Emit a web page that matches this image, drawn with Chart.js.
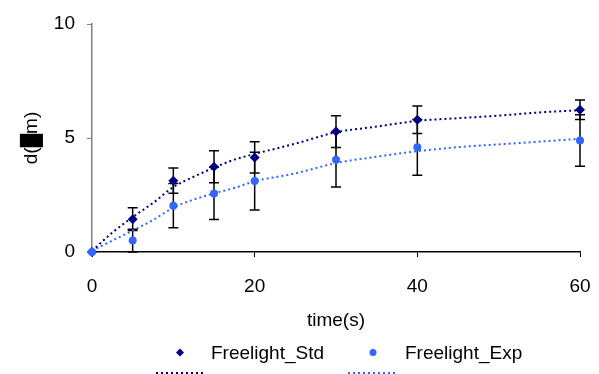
<!DOCTYPE html>
<html>
<head>
<meta charset="utf-8">
<script src="https://cdn.jsdelivr.net/npm/chart.js@4/dist/chart.umd.min.js"></script>
<style>
  html, body { margin: 0; padding: 0; background: #fff; }
  #wrap { width: 599px; height: 374px; }
</style>
</head>
<body>
<div id="wrap"><canvas id="chart" width="599" height="374"></canvas></div>
<script>
// ---------- data ----------
const TIMES      = [0, 5, 10, 15, 20, 30, 40, 60];
const STD_VALUES = [0, 1.44, 3.13, 3.74, 4.15, 5.28, 5.80, 6.24];
const STD_ERRORS = [0, 0.50, 0.55, 0.70, 0.69, 0.70, 0.60, 0.43];
const EXP_VALUES = [0, 0.50, 2.03, 2.57, 3.11, 4.05, 4.59, 4.89];
const EXP_ERRORS = [0, 0.50, 0.97, 1.15, 1.27, 1.20, 1.22, 1.13];
const SERIES_NAMES = ['Freelight_Std', 'Freelight_Exp'];

// trendlines
const TREND_TIMES = [0, 2.5, 5, 7.5, 10, 12.5, 15, 17.5, 20, 25, 30, 35, 40, 45, 50, 55, 60];
const STD_TREND   = [0.05, 0.85, 1.53, 2.15, 2.85, 3.3, 3.7, 4.05, 4.3, 4.75, 5.25, 5.5, 5.75, 5.87, 5.98, 6.12, 6.22];
const EXP_TREND   = [0.05, 0.5, 0.94, 1.4, 1.95, 2.3, 2.57, 2.81, 3.1, 3.45, 3.9, 4.18, 4.42, 4.6, 4.72, 4.84, 4.97];

// ---------- style ----------
const FONT = 'Liberation Sans, Arial, sans-serif';
const STD_COLOR = '#000080';
const EXP_COLOR = '#3366FF';

const toPoints = (xs, vals) => xs.map((t, i) => ({ x: t, y: vals[i] }));

// error bars drawn under the markers
const errorBars = {
  id: 'errorBars',
  beforeDatasetsDraw(chart) {
    const { ctx, scales: { x, y } } = chart;
    ctx.save();
    ctx.strokeStyle = '#000';
    ctx.lineWidth = 1.5;
    [[STD_VALUES, STD_ERRORS], [EXP_VALUES, EXP_ERRORS]].forEach(([vals, errs]) => {
      TIMES.forEach((t, i) => {
        if (!errs[i]) return;
        const px = x.getPixelForValue(t);
        const top = y.getPixelForValue(vals[i] + errs[i]);
        const bot = y.getPixelForValue(Math.max(0, vals[i] - errs[i]));
        ctx.beginPath();
        ctx.moveTo(px, top); ctx.lineTo(px, bot);
        ctx.moveTo(px - 5, top); ctx.lineTo(px + 5, top);
        ctx.moveTo(px - 5, bot); ctx.lineTo(px + 5, bot);
        ctx.stroke();
      });
    });
    ctx.restore();
  }
};

// excel-like legend: markers on first row, trendline samples below
const excelLegend = {
  id: 'excelLegend',
  afterDraw(chart) {
    const ctx = chart.ctx;
    ctx.save();
    ctx.font = '19px ' + FONT;
    ctx.textBaseline = 'alphabetic';

    // diamond
    ctx.fillStyle = STD_COLOR;
    ctx.beginPath();
    ctx.moveTo(180, 348.5); ctx.lineTo(184, 352.5); ctx.lineTo(180, 356.5); ctx.lineTo(176, 352.5);
    ctx.closePath(); ctx.fill();
    // circle
    ctx.fillStyle = EXP_COLOR;
    ctx.beginPath();
    ctx.arc(373, 352.5, 3.5, 0, Math.PI * 2); ctx.fill();

    ctx.fillStyle = '#000';
    ctx.fillText(SERIES_NAMES[0], 211, 359);
    ctx.fillText(SERIES_NAMES[1], 405, 359);

    ctx.lineWidth = 2;
    ctx.setLineDash([2, 3]);
    ctx.strokeStyle = STD_COLOR;
    ctx.beginPath(); ctx.moveTo(156, 373); ctx.lineTo(204, 373); ctx.stroke();
    ctx.strokeStyle = EXP_COLOR;
    ctx.beginPath(); ctx.moveTo(348, 373); ctx.lineTo(398, 373); ctx.stroke();
    ctx.restore();
  }
};

const trendStyle = (color) => ({
  borderColor: color,
  borderWidth: 2,
  borderDash: [2, 3],
  cubicInterpolationMode: 'monotone',
  pointRadius: 0,
  clip: false,
  order: 5,
});

new Chart(document.getElementById('chart').getContext('2d'), {
  type: 'line',
  data: {
    datasets: [
      {
        label: SERIES_NAMES[0],
        data: toPoints(TIMES, STD_VALUES),
        showLine: false,
        backgroundColor: STD_COLOR,
        borderColor: STD_COLOR,
        pointStyle: 'rectRot',
        pointRadius: 5,
        pointBorderWidth: 0,
        clip: false,
        order: 1,
      },
      {
        label: SERIES_NAMES[1],
        data: toPoints(TIMES, EXP_VALUES),
        showLine: false,
        backgroundColor: EXP_COLOR,
        borderColor: EXP_COLOR,
        pointStyle: 'circle',
        pointRadius: 4,
        pointBorderWidth: 0,
        clip: false,
        order: 0,
      },
      { label: 'trend std', data: toPoints(TREND_TIMES, STD_TREND), ...trendStyle(STD_COLOR) },
      { label: 'trend exp', data: toPoints(TREND_TIMES, EXP_TREND), ...trendStyle(EXP_COLOR) },
    ]
  },
  options: {
    responsive: false,
    animation: false,
    layout: { padding: { top: 24, right: 19, left: 0, bottom: 0 } },
    plugins: { legend: { display: false }, tooltip: { enabled: false } },
    scales: {
      x: {
        type: 'linear',
        min: 0, max: 60,
        ticks: { stepSize: 20, color: '#000', font: { family: FONT, size: 19 }, padding: 18, maxRotation: 0 },
        grid: { drawOnChartArea: false, tickLength: 5, color: '#000' },
        border: { color: '#000', width: 1.5 },
        title: { display: true, text: 'time(s)', color: '#000', font: { family: FONT, size: 19 }, padding: { top: 0, bottom: 42 } },
        afterFit(scale) {
          scale.height = 122;
          // tick padding is only vertical here, keep it out of the side padding
          scale.paddingLeft = 0;
          scale.paddingRight = 0;
        },
      },
      y: {
        min: 0, max: 10,
        ticks: { stepSize: 5, color: '#000', font: { family: FONT, size: 19 }, padding: 12 },
        grid: { drawOnChartArea: false, tickLength: 5, color: '#808080' },
        border: { color: '#808080', width: 1.5 },
        title: { display: true, text: 'd(\u2588m)', color: '#000', font: { family: FONT, size: 19 }, padding: { top: 20, bottom: 0 } },
        afterFit(scale) { scale.width = 92; },
      }
    }
  },
  plugins: [errorBars, excelLegend]
});
</script>
</body>
</html>
